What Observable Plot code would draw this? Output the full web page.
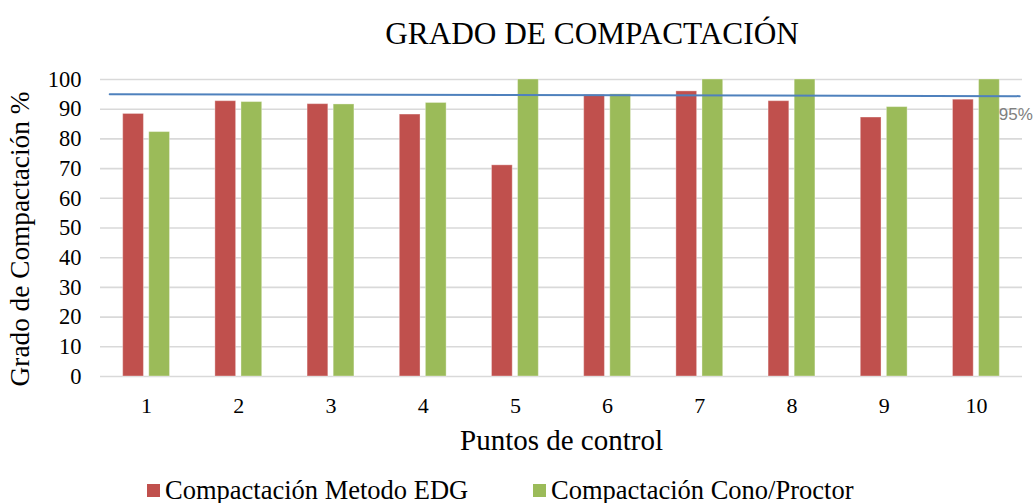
<!DOCTYPE html>
<html>
<head>
<meta charset="utf-8">
<script src="https://cdn.jsdelivr.net/npm/d3@7"></script>
<script src="https://cdn.jsdelivr.net/npm/@observablehq/plot@0.6"></script>
<style>
  body { margin: 0; background: #fff; }
  #chart { position: relative; width: 1034px; height: 503px; overflow: hidden; font-family: "Liberation Serif", "Times New Roman", serif; }
  #title { position: absolute; top: 14px; left: 592px; transform: translateX(-50%); font-size: 31.3px; line-height: 40px; white-space: nowrap; color: #000; }
  #plot { position: absolute; top: 0; left: 0; }
  .legend-item { position: absolute; top: 474px; height: 32px; display: flex; align-items: center; font-size: 26.5px; white-space: nowrap; color: #000; }
  .swatch { width: 13px; height: 13px; margin-right: 5px; }
</style>
</head>
<body>
<div id="chart">
  <div id="title">GRADO DE COMPACTACIÓN</div>
  <div id="plot"></div>
</div>
<script>
// Control points and compaction degree (%) for each method
const puntos = [1, 2, 3, 4, 5, 6, 7, 8, 9, 10];
const edg = [88.4, 92.7, 91.7, 88.2, 71.1, 94.8, 96.0, 92.7, 87.2, 93.2];
const cono = [82.3, 92.4, 91.6, 92.1, 100, 95.0, 100, 100, 90.7, 100];
const series = ["Compactación Metodo EDG", "Compactación Cono/Proctor"];
const colors = ["#C0504D", "#9BBB59"];
const yTicks = [0, 10, 20, 30, 40, 50, 60, 70, 80, 90, 100];

// 95% reference line
const refX = [0.6, 10.47];
const refY = [95.05, 94.4];
const refLabel = "95%";

const rows = puntos.map((p, i) => ({punto: p, edg: edg[i], cono: cono[i]}));
const refLine = refX.map((x, i) => ({x, y: refY[i]}));

const barHalf = 0.254, barGap = 0.029;
const serif = "'Liberation Serif', 'Times New Roman', serif";

const chart = Plot.plot({
  width: 1034,
  height: 460,
  marginTop: 79,
  marginBottom: 84,
  marginLeft: 100,
  marginRight: 12,
  style: {fontFamily: serif, background: "transparent"},
  x: {type: "linear", domain: [0.5, 10.5], label: null},
  y: {domain: [0, 100], label: null, axis: null},
  marks: [
    Plot.gridY(yTicks, {stroke: "#d9d9d9", strokeOpacity: 1, strokeWidth: 1.6}),
    Plot.rectY(rows, {
      x1: d => d.punto - barHalf, x2: d => d.punto - barGap, y: "edg",
      fill: colors[0], stroke: "#fff", strokeOpacity: 0.35, strokeWidth: 1
    }),
    Plot.rectY(rows, {
      x1: d => d.punto + barGap, x2: d => d.punto + barHalf, y: "cono",
      fill: colors[1], stroke: "#fff", strokeOpacity: 0.35, strokeWidth: 1
    }),
    Plot.line(refLine, {x: "x", y: "y", stroke: "#4F81BD", strokeWidth: 2}),
    Plot.text([refLine[refLine.length - 1]], {
      x: "x", y: "y", text: () => refLabel, textAnchor: "start", dx: -21, dy: 18,
      fill: "#808080", fontSize: 17, fontFamily: "'Liberation Sans', Arial, sans-serif"
    }),
    // y tick labels, right-aligned left of the frame
    Plot.text(yTicks, {
      y: d => d, text: d => String(d), frameAnchor: "left", textAnchor: "end",
      dx: -19, fontSize: 22.5, fontFamily: serif, fill: "#000"
    }),
    Plot.axisX({ticks: puntos, tickSize: 0, tickPadding: 21, fontSize: 22, fontFamily: serif, tickFormat: d => d, label: null, fill: "#000"}),
    Plot.text(["Grado de Compactación %"], {
      frameAnchor: "left", textAnchor: "middle", rotate: -90, dx: -80, dy: 11, fontSize: 27.3, fontFamily: serif, fill: "#000"
    }),
    Plot.text(["Puntos de control"], {
      frameAnchor: "bottom", dy: 73, fontSize: 29, fontFamily: serif, fill: "#000"
    })
  ]
});
document.getElementById("plot").appendChild(chart);

// Legend below the chart
const legendLeft = [147, 533];
const host = document.getElementById("chart");
series.forEach((name, i) => {
  const item = document.createElement("div");
  item.className = "legend-item";
  item.style.left = legendLeft[i] + "px";
  const sw = document.createElement("span");
  sw.className = "swatch";
  sw.style.background = colors[i];
  const label = document.createElement("span");
  label.textContent = name;
  item.appendChild(sw);
  item.appendChild(label);
  host.appendChild(item);
});
</script>
</body>
</html>
